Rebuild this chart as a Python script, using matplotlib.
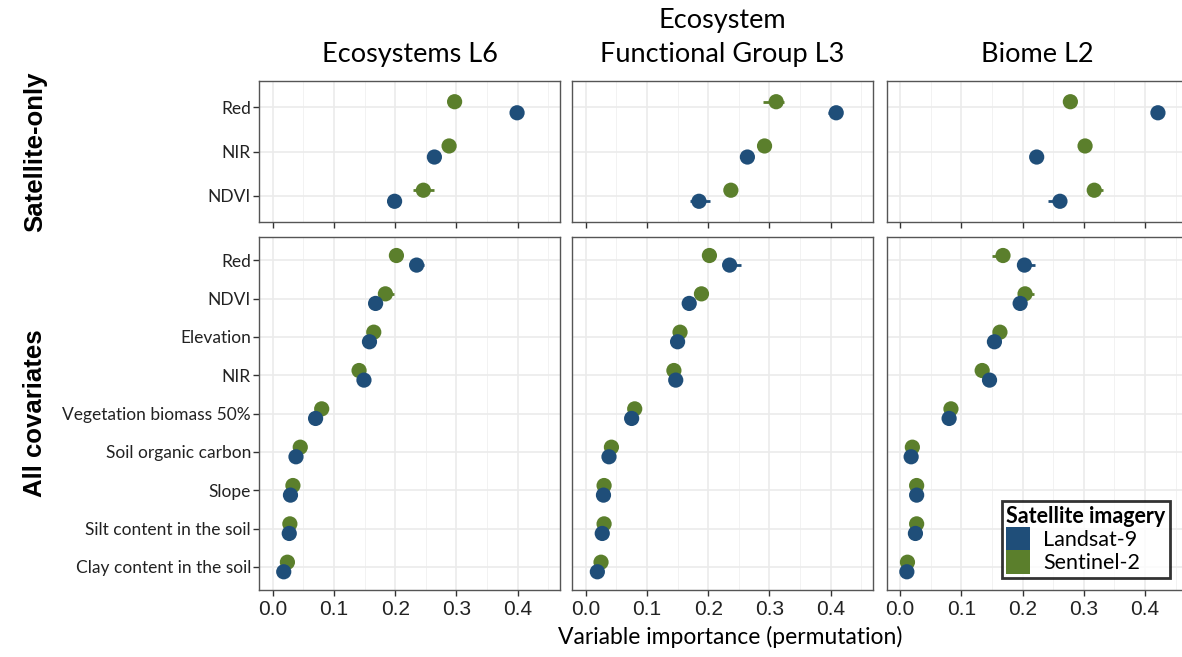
import matplotlib
matplotlib.use("Agg")
import matplotlib.pyplot as plt
from matplotlib.patches import Patch
from matplotlib.ticker import MultipleLocator

# ---------------- data ----------------
facets = ["Ecosystems L6", "Ecosystem\nFunctional Group L3", "Biome L2"]
rows = ["Satellite-only", "All covariates"]
series = ["Landsat-9", "Sentinel-2"]
colors = {"Landsat-9": "#1f4e79", "Sentinel-2": "#5b7f2c"}

cats_sat = ["Red", "NIR", "NDVI"]
cats_all = ["Red", "NDVI", "Elevation", "NIR", "Vegetation biomass 50%",
            "Soil organic carbon", "Slope", "Silt content in the soil",
            "Clay content in the soil"]

# Satellite-only, per facet: values for Landsat-9 (L) and Sentinel-2 (S)
sat_L = [[0.399, 0.264, 0.199], [0.409, 0.264, 0.185], [0.421, 0.223, 0.261]]
sat_S = [[0.297, 0.288, 0.246], [0.311, 0.292, 0.237], [0.278, 0.302, 0.317]]
sat_L_lo = [[0.397, 0.262, 0.186], [0.396, 0.262, 0.171], [0.419, 0.221, 0.242]]
sat_L_hi = [[0.401, 0.266, 0.201], [0.411, 0.266, 0.203], [0.423, 0.225, 0.263]]
sat_S_lo = [[0.295, 0.286, 0.229], [0.290, 0.290, 0.235], [0.276, 0.300, 0.315]]
sat_S_hi = [[0.299, 0.290, 0.264], [0.323, 0.294, 0.239], [0.280, 0.304, 0.332]]

# All covariates, per facet
all_L = [[0.235, 0.168, 0.158, 0.149, 0.070, 0.038, 0.029, 0.027, 0.018],
         [0.235, 0.169, 0.150, 0.147, 0.075, 0.038, 0.029, 0.027, 0.019],
         [0.203, 0.196, 0.154, 0.146, 0.080, 0.018, 0.027, 0.025, 0.011]]
all_S = [[0.202, 0.184, 0.165, 0.141, 0.080, 0.045, 0.033, 0.028, 0.024],
         [0.202, 0.189, 0.154, 0.144, 0.080, 0.042, 0.030, 0.030, 0.025],
         [0.168, 0.204, 0.163, 0.134, 0.083, 0.020, 0.027, 0.027, 0.012]]
all_L_hi = [[0.247, 0.170, 0.160, 0.151, 0.072, 0.040, 0.031, 0.029, 0.020],
            [0.254, 0.171, 0.152, 0.149, 0.077, 0.040, 0.031, 0.029, 0.021],
            [0.220, 0.198, 0.156, 0.148, 0.082, 0.020, 0.029, 0.027, 0.013]]
all_L_lo = [[0.233, 0.166, 0.156, 0.147, 0.068, 0.036, 0.027, 0.025, 0.016],
            [0.233, 0.167, 0.148, 0.145, 0.073, 0.036, 0.027, 0.025, 0.017],
            [0.201, 0.194, 0.152, 0.144, 0.078, 0.016, 0.025, 0.023, 0.009]]
all_S_hi = [[0.204, 0.198, 0.167, 0.143, 0.082, 0.047, 0.035, 0.030, 0.026],
            [0.204, 0.191, 0.156, 0.146, 0.082, 0.044, 0.032, 0.032, 0.027],
            [0.170, 0.218, 0.165, 0.136, 0.085, 0.022, 0.029, 0.029, 0.014]]
all_S_lo = [[0.200, 0.182, 0.163, 0.139, 0.078, 0.043, 0.031, 0.026, 0.022],
            [0.200, 0.187, 0.152, 0.142, 0.078, 0.040, 0.028, 0.028, 0.023],
            [0.150, 0.202, 0.161, 0.132, 0.081, 0.018, 0.025, 0.025, 0.010]]

xticks = [0.0, 0.1, 0.2, 0.3, 0.4]
xtick_labels = ["0.0", "0.1", "0.2", "0.3", "0.4"]
xlabel = "Variable importance (permutation)"
legend_title = "Satellite imagery"

# ---------------- layout ----------------
W, H = 1182, 657
fig = plt.figure(figsize=(W / 100, H / 100), dpi=100)

TXT = ["Lato", "DejaVu Sans"]
NUM = ["Liberation Sans", "DejaVu Sans"]

lefts = [259.3, 572.3, 886.7]
pw = 300.7
row_px = [(80.7, 222.3), (237.3, 590.0)]
xlim = (-0.0219, 0.4691)
dodge = 0.125

def px_rect(x0, y0, x1, y1):
    return [x0 / W, 1 - y1 / H, (x1 - x0) / W, (y1 - y0) / H]

row_data = [
    (cats_sat, sat_L, sat_S, sat_L_lo, sat_L_hi, sat_S_lo, sat_S_hi),
    (cats_all, all_L, all_S, all_L_lo, all_L_hi, all_S_lo, all_S_hi),
]

for r, (cats, L, S, Llo, Lhi, Slo, Shi) in enumerate(row_data):
    y0, y1 = row_px[r]
    n = len(cats)
    ypos = list(range(n))
    for c in range(3):
        ax = fig.add_axes(px_rect(lefts[c], y0, lefts[c] + pw, y1))
        ax.set_xlim(*xlim)
        ax.set_ylim(n - 1 + 0.6, -0.6)
        ax.xaxis.set_major_locator(MultipleLocator(0.1))
        ax.xaxis.set_minor_locator(MultipleLocator(0.05))
        ax.set_xticks(xticks)
        ax.set_yticks(ypos)
        ax.grid(True, which="major", color="#ebebeb", lw=1.2, zorder=0)
        ax.grid(True, which="minor", axis="x", color="#f2f2f2", lw=0.7, zorder=0)
        ax.set_axisbelow(True)
        for sp in ax.spines.values():
            sp.set_color("#555555")
            sp.set_linewidth(1.0)
        ax.tick_params(axis="both", which="major", length=4, width=1.0, color="#333333")
        ax.tick_params(axis="x", which="minor", length=0)
        if r == 1:
            ax.set_xticklabels(xtick_labels, fontsize=15, family=NUM, color="#222222")
            ax.tick_params(axis="x", pad=3)
        else:
            ax.set_xticklabels([])
        if c == 0:
            ax.set_yticklabels(cats, fontsize=12.5, family=TXT, color="#222222")
            ax.tick_params(axis="y", pad=2)
        else:
            ax.set_yticklabels([])
            ax.tick_params(axis="y", length=0)
        # Sentinel-2 (green, above), Landsat-9 (blue, below)
        for vals, lo, hi, off, name in [(S[c], Slo[c], Shi[c], -dodge, "Sentinel-2"),
                                        (L[c], Llo[c], Lhi[c], dodge, "Landsat-9")]:
            yy = [p + off for p in ypos]
            ax.hlines(yy, lo, hi, color=colors[name], lw=2, zorder=2)
            ax.scatter(vals, yy, s=120, color=colors[name], edgecolors="none", zorder=3)

# row labels
fig.text(35 / W, 1 - 151.5 / H, rows[0], rotation=90, ha="center", va="center",
         fontsize=18.5, fontweight="bold", family=["Liberation Sans", "DejaVu Sans"])
fig.text(35 / W, 1 - 413.6 / H, rows[1], rotation=90, ha="center", va="center",
         fontsize=18.5, fontweight="bold", family=["Liberation Sans", "DejaVu Sans"])

# column titles
for c, t in enumerate(facets):
    cx = (lefts[c] + pw / 2) / W
    fig.text(cx, 1 - 67 / H, t, ha="center", va="bottom", fontsize=19.5, family=TXT,
             linespacing=1.45)

# x label
fig.text(730 / W, 1 - 637 / H, xlabel, ha="center", va="center", fontsize=16.5, family=TXT)

# legend
handles = [Patch(facecolor=colors[s], edgecolor="none", label=s) for s in series]
leg = fig.legend(handles=handles, title=legend_title, loc="lower left",
                 bbox_to_anchor=(1002 / W, 1 - 578 / H), frameon=True, fancybox=False,
                 prop={"family": TXT, "size": 15.5}, handlelength=1.1, handleheight=1.3,
                 handletextpad=0.6, labelspacing=0.0, borderpad=0.2, borderaxespad=0)
leg.get_title().set_fontweight("bold")
leg.get_title().set_fontsize(15.5)
leg.get_title().set_family(TXT)
leg._legend_box.align = "left"
leg.get_frame().set_edgecolor("black")
leg.get_frame().set_linewidth(2)

fig.savefig("out.png", dpi=100)
